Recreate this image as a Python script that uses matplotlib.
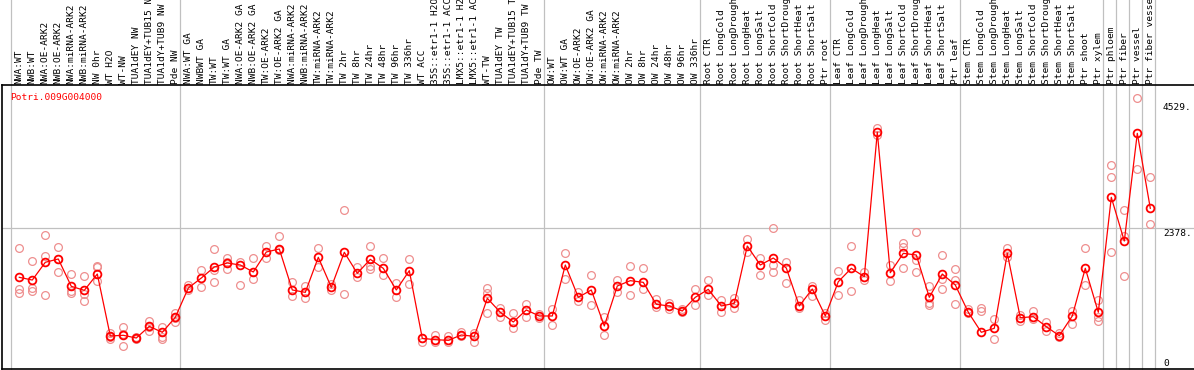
import numpy as np
import matplotlib
matplotlib.use("Agg")
import matplotlib.pyplot as plt
import matplotlib.transforms as mtransforms

categories = [
    "NWA:WT", "NWB:WT", "NWA:OE-ARK2", "NWB:OE-ARK2", "NWA:miRNA-ARK2", "NWB:miRNA-ARK2",
    "NW 0hr", "WT H2O", "WT-NW", "TUA1dEY NW", "TUA1dEY+TUB15 NW", "TUA1dY+TUB9 NW", "Pde NW",
    "NWA:WT GA", "NWBWT GA", "TW:WT", "TW:WT GA", "NWA:OE-ARK2 GA", "NWB:OE-ARK2 GA",
    "TW:OE-ARK2", "TW:OE-ARK2 GA", "NWA:miRNA-ARK2 GA", "NWB:miRNA-ARK2 GA", "TW:miRNA-ARK2",
    "TW:miRNA-ARK2", "TW 2hr", "TW 8hr", "TW 24hr", "TW 48hr", "TW 96hr", "TW 336hr", "WT ACC",
    "35S::etr1-1 H2O", "35S::etr1-1 ACC", "LMX5::etr1-1 H2O", "LMX5::etr1-1 ACC", "WT-TW",
    "TUA1dEY TW", "TUA1dEY+TUB15 TW", "TUA1dY+TUB9 TW", "Pde TW",
    "OW:WT", "OW:WT GA", "OW:OE-ARK2", "OW:OE-ARK2 GA", "OW:miRNA-ARK2", "OW:miRNA-ARK2",
    "OW 2hr", "OW 8hr", "OW 24hr", "OW 48hr", "OW 96hr", "OW 336hr",
    "Root CTR", "Root LongCold", "Root LongDrought", "Root LongHeat", "Root LongSalt",
    "Root ShortCold", "Root ShortDrought", "Root ShortHeat", "Root ShortSalt", "Ptr root",
    "Leaf CTR", "Leaf LongCold", "Leaf LongDrought", "Leaf LongHeat", "Leaf LongSalt",
    "Leaf ShortCold", "Leaf ShortDrought", "Leaf ShortHeat", "Leaf ShortSalt", "Ptr leaf",
    "Stem CTR", "Stem LongCold", "Stem LongDrought", "Stem LongHeat", "Stem LongSalt",
    "Stem ShortCold", "Stem ShortDrought", "Stem ShortHeat", "Stem ShortSalt", "Ptr shoot",
    "Ptr xylem", "Ptr phloem", "Ptr fiber", "Ptr vessel", "Ptr fiber vessel",
]

means = [
    1517, 1470, 1777, 1834, 1361, 1292, 1574, 502, 514, 467, 669, 565, 825,
    1332, 1505, 1695, 1765, 1730, 1609, 1955, 2007, 1298, 1257,
    1863, 1344, 1950, 1586, 1828, 1672, 1298, 1632, 461, 438, 427, 519, 496, 1154, 912,
    744, 952, 848,
    848, 1730, 1171, 1298, 675, 1367, 1459, 1430, 1050, 1021, 934, 1171,
    1309, 1021, 1067, 2059, 1730, 1851, 1678, 1021, 1315, 848,
    1441, 1673, 1528, 4026, 1597, 1932, 1903, 1171, 1574, 1384,
    912, 566, 635, 1932, 818, 836, 663, 507, 848, 1673, 912,
    2901, 2145, 4008, 2711,
]

nan = np.nan
rep_a = [
    2019, 1794, 2244, 2041, 1574, 1534, 1718, 479, 657, 480, 766, 652, 905,
    1380, 1640, 2000, 1780, 1780, 1850, 2060, 2230, 1435, 1367,
    2019, 1396, 2676, 1700, 2059, 1846, 1424, 1828, 393, 519, 502, 566, 548, 1337, 991,
    900, 1060, 880,
    969, 1938, 1258, 1552, 836, 1471, 1708, 1678, 1137, 1078, 969, 1315,
    1471, 1125, 1154, 2180, 1851, 2370, 1782, 1125, 1367, 779,
    1626, 2059, 1614, 4095, 1730, 2116, 2296, 1367, 1903, 1656,
    964, 981, 791, 2029, 865, 939, 749, 559, 939, 2019, 1125,
    3460, 2682, 4614, 3258,
]
rep_b = [
    1315, 1327, 1891, 1604, 1275, 1233, 1690, 445, 334, 455, 583, 490, 749,
    1300, 1350, 1435, 1660, 1380, 1490, 1850, 1990, 1190, 1154,
    1700, 1298, 1223, 1528, 1713, 1557, 1182, 1396, 475, 393, 398, 502, 398, 1240, 836,
    640, 830, 820,
    692, 1488, 1113, 1033, 519, 1268, 1206, 1315, 1009, 964, 922, 1038,
    1211, 922, 981, 1955, 1557, 1730, 1419, 986, 1194, 900,
    1211, 1280, 1471, 3980, 1453, 2047, 1817, 1067, 1483, 1471,
    894, 934, 450, 1863, 761, 791, 593, 490, 709, 1384, 825,
    3258, 2232, 3386, 2434,
]
rep_c = [
    1240, 1280, 1211, 1834, 1240, 1107, 1448, 560, 540, 467, 660, 445, 820,
    nan, nan, 1650, 1850, nan, nan, nan, nan, nan, nan,
    nan, nan, nan, nan, 1655, nan, nan, nan, nan, nan, nan, nan, nan, 894, nan,
    nan, nan, nan,
    nan, nan, nan, nan, nan, nan, nan, nan, nan, nan, nan, nan,
    nan, nan, nan, nan, nan, 1609, nan, nan, nan, nan,
    nan, nan, nan, nan, nan, 1673, 1604, 1038, 1310, 1055,
    nan, nan, nan, nan, nan, nan, nan, nan, nan, nan, 766,
    1960, 1540, nan, nan,
]

group_starts = [0, 13, 41, 53, 63, 73, 84, 85, 86, 87, 88]
grid_value = 2378
axis_labels = [("4529.", 108), ("2378.", 233), ("0", 363)]
gene_id = "Potri.009G004000"

W, H = 1194, 370
fig = plt.figure(figsize=(W / 100, H / 100), dpi=100)
fig.patch.set_facecolor("white")

left_px, right_px = 1.5, 1194
bottom_px_top, top_px_top = 368.5, 85
ax = fig.add_axes([left_px / W, (H - bottom_px_top) / H,
                   (right_px - left_px) / W, (bottom_px_top - top_px_top) / H])

x0, dx = 19.3, 13.0
ax.set_xlim((left_px - x0) / dx, (right_px - x0) / dx)
k = 0.0578
y_zero = 365.0
ax.set_ylim((y_zero - bottom_px_top) / k, (y_zero - top_px_top) / k)

mono = "DejaVu Sans Mono"
fs = 6.8
xs = np.arange(len(categories))

# separators
for g in group_starts:
    ax.axvline(g - 8.0 / dx, ymin=0, ymax=(bottom_px_top) / (bottom_px_top - top_px_top),
               color="#c0c0c0", lw=0.9, clip_on=False, zorder=1)
ax.axhline(grid_value, color="#c0c0c0", lw=0.9, zorder=1)

# replicates
for rep in (rep_a, rep_b, rep_c):
    ax.plot(xs, rep, linestyle="none", marker="o", markersize=5.6, markerfacecolor="none",
            markeredgecolor="#ee8f8f", markeredgewidth=0.9, zorder=2, clip_on=False)

ax.plot(xs, means, color="#ff0000", lw=0.9, marker="o", markersize=5.6,
        markerfacecolor="none", markeredgecolor="#ff0000", markeredgewidth=1.3, zorder=3)

# category labels
trans = mtransforms.blended_transform_factory(ax.transData, ax.transAxes)
lab_y = ((H - 84) - (H - bottom_px_top)) / (bottom_px_top - top_px_top)
for i, c in enumerate(categories):
    ax.text(i, lab_y, c, rotation=90, ha="center", va="bottom", fontsize=fs,
            family=mono, transform=trans, clip_on=False, color="black")

for s in ("left", "bottom", "top"):
    ax.spines[s].set_color("black")
    ax.spines[s].set_linewidth(1.2)
ax.spines["right"].set_visible(False)
ax.set_xticks([])
ax.set_yticks([])
ax.patch.set_alpha(0)

fig.text(10 / W, 1 - 97 / H, gene_id, color="#ff0000", fontsize=fs, family=mono,
         ha="left", va="center")
for txt, ypx in axis_labels:
    fig.text(1163 / W, 1 - ypx / H, txt, color="black", fontsize=fs, family=mono,
             ha="left", va="center")

fig.savefig("out.png", dpi=100)
